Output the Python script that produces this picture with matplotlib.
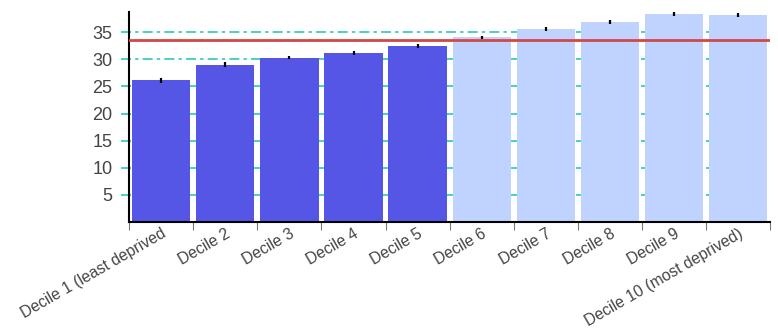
import numpy as np
import matplotlib.pyplot as plt

# dane
categories = ["Decile 1 (least deprived", "Decile 2", "Decile 3", "Decile 4", "Decile 5",
              "Decile 6", "Decile 7", "Decile 8", "Decile 9", "Decile 10 (most deprived)"]
values = [26.1, 29.0, 30.3, 31.1, 32.5, 34.0, 35.5, 36.8, 38.4, 38.2]
errors = [0.4, 0.4, 0.35, 0.35, 0.35, 0.35, 0.35, 0.4, 0.4, 0.35]
average = 33.5
yticks = [5, 10, 15, 20, 25, 30, 35]

dark = "#5555e6"
light = "#c0d3fe"
colors = [dark] * 5 + [light] * 5

plt.rcParams["font.family"] = ["Liberation Sans", "DejaVu Sans"]

fig = plt.figure(figsize=(7.78, 3.32), dpi=100)
ax = fig.add_axes([0.166, 0.331, 0.824, 0.633])

x = np.arange(len(categories))
ax.bar(x, values, width=0.91, color=colors, zorder=2)
ax.errorbar(x, values, yerr=errors, fmt="none", ecolor="black", elinewidth=1.6, capsize=0, zorder=3)
ax.axhline(average, color="#d04848", linewidth=2, zorder=4)

# siatka przerywana kropka-kreska
for yv in yticks:
    ax.plot([-0.625, len(categories) - 0.5], [yv, yv], color="#2cc8b8", linewidth=1.2,
            dashes=(6, 2.5, 2, 2.5), zorder=1, clip_on=False)

ax.set_xlim(-0.5, len(categories) - 0.5)
ax.set_ylim(0, 38.7)
ax.set_yticks(yticks)
ax.set_yticklabels([str(v) for v in yticks], fontsize=13, color="#444444")
ax.tick_params(axis="y", length=0, pad=12)

ax.set_xticks(np.arange(len(categories) + 1) - 0.5)
ax.set_xticklabels([])
ax.tick_params(axis="x", length=6, color="#777777")
for i, lab in enumerate(categories):
    ax.text(i, -0.7, lab, rotation=30, ha="right", va="top", rotation_mode="anchor",
            fontsize=11.3, color="#444444")

ax.spines["top"].set_visible(False)
ax.spines["right"].set_visible(False)
ax.spines["left"].set_linewidth(1.5)
ax.spines["bottom"].set_linewidth(1.5)

fig.savefig("out.png", dpi=100)
